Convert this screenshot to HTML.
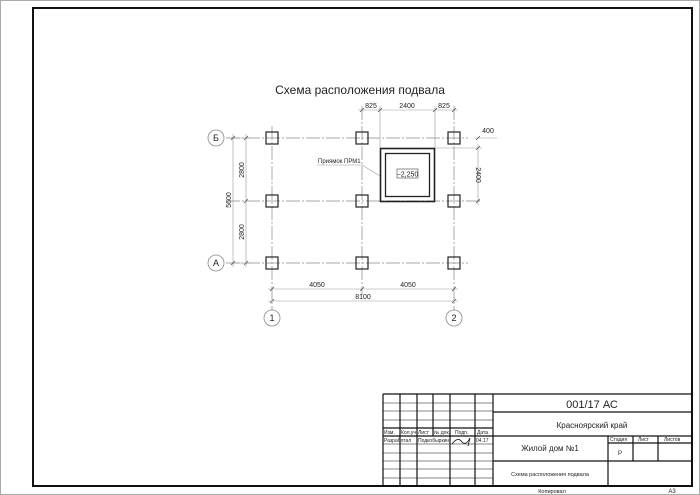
<!DOCTYPE html>
<html><head><meta charset="utf-8"><style>
html,body{margin:0;padding:0;background:#fff}
svg{display:block}
text{font-family:"Liberation Sans","DejaVu Sans",sans-serif;fill:#222}
</style></head><body>
<svg width="700" height="495" viewBox="0 0 700 495" xmlns="http://www.w3.org/2000/svg">
<rect x="0.5" y="0.5" width="699" height="494" fill="#fff" stroke="#aaa"/>
<rect x="33" y="8" width="659" height="478" fill="none" stroke="#111" stroke-width="2"/>

<text x="360" y="94" font-size="12" text-anchor="middle">Схема расположения подвала</text>

<g stroke="#888" stroke-width="0.7" fill="none" stroke-dasharray="14 2 2 2">
<line x1="226" y1="138" x2="468" y2="138"/>
<line x1="226" y1="201" x2="480" y2="201"/>
<line x1="226" y1="263" x2="468" y2="263"/>
<line x1="272" y1="126" x2="272" y2="310"/>
<line x1="362" y1="106" x2="362" y2="295"/>
<line x1="454" y1="106" x2="454" y2="310"/>
</g>
<g stroke="#999" stroke-width="0.6" fill="none">
<line x1="380" y1="106" x2="380" y2="148"/>
<line x1="435" y1="106" x2="435" y2="148"/>
<line x1="358" y1="110" x2="458" y2="110"/>
<line x1="435" y1="148" x2="482" y2="148"/>
<line x1="478" y1="144" x2="478" y2="205"/>
<line x1="474" y1="138" x2="497" y2="138" />
<line x1="230" y1="138" x2="250" y2="138"/>
<line x1="230" y1="263" x2="250" y2="263"/>
<line x1="233" y1="134" x2="233" y2="267"/>
<line x1="246" y1="134" x2="246" y2="267"/>
<line x1="268" y1="289" x2="458" y2="289"/>
<line x1="268" y1="301" x2="458" y2="301"/>
<polyline points="317,165 362,165 380,176"/>
</g>
<g stroke="#555" stroke-width="0.8">
<path d="M360,112l4,-4M378,112l4,-4M433,112l4,-4M452,112l4,-4M476,150l4,-4M476,203l4,-4M476,140l4,-4M231,140l4,-4M231,265l4,-4M244,140l4,-4M244,203l4,-4M244,265l4,-4M270,291l4,-4M360,291l4,-4M452,291l4,-4M270,303l4,-4M452,303l4,-4"/>
</g>
<g font-size="7" fill="#444">
<text x="371" y="108" text-anchor="middle">825</text>
<text x="407" y="108" text-anchor="middle">2400</text>
<text x="444" y="108" text-anchor="middle">825</text>
<text x="488" y="133" text-anchor="middle">400</text>
<text x="317" y="287" text-anchor="middle">4050</text>
<text x="408" y="287" text-anchor="middle">4050</text>
<text x="363" y="299" text-anchor="middle">8100</text>
<text transform="translate(476,175) rotate(90)" text-anchor="middle">2400</text>
<text transform="translate(231,200) rotate(-90)" text-anchor="middle">5600</text>
<text transform="translate(244,170) rotate(-90)" text-anchor="middle">2800</text>
<text transform="translate(244,232) rotate(-90)" text-anchor="middle">2800</text>
<text x="318" y="163" font-size="6">Приямок ПРМ1</text>
</g>
<g stroke="#888" stroke-width="0.8" fill="#fff">
<circle cx="216" cy="138" r="8"/><circle cx="216" cy="263" r="8"/>
<circle cx="272" cy="318" r="8"/><circle cx="454" cy="318" r="8"/>
</g>
<g font-size="9" fill="#666" text-anchor="middle">
<text x="216" y="141">Б</text><text x="216" y="266">А</text>
<text x="272" y="321">1</text><text x="454" y="321">2</text>
</g>
<g stroke="#222" stroke-width="1.2" fill="none">
<rect x="266" y="132" width="12" height="12"/><rect x="356" y="132" width="12" height="12"/><rect x="448" y="132" width="12" height="12"/>
<rect x="266" y="195" width="12" height="12"/><rect x="356" y="195" width="12" height="12"/><rect x="448" y="195" width="12" height="12"/>
<rect x="266" y="257" width="12" height="12"/><rect x="356" y="257" width="12" height="12"/><rect x="448" y="257" width="12" height="12"/>
<rect x="380.5" y="148.5" width="54" height="53" stroke-width="1.6"/>
<rect x="385.5" y="153.5" width="44" height="43" stroke-width="1.3"/>
</g>
<rect x="397" y="169" width="21" height="9" fill="#fff" stroke="#444" stroke-width="0.6"/>
<text x="407.5" y="176.5" font-size="7" text-anchor="middle" fill="#444">−2,250</text>

<!-- title block -->
<g stroke="#111" stroke-width="1.2" fill="none">
<line x1="383" y1="394" x2="692" y2="394"/>
<line x1="383" y1="394" x2="383" y2="486"/>
<line x1="400" y1="394" x2="400" y2="486"/>
<line x1="417" y1="394" x2="417" y2="436"/>
<line x1="433" y1="394" x2="433" y2="436"/>
<line x1="450" y1="394" x2="450" y2="486"/>
<line x1="475" y1="394" x2="475" y2="486"/>
<line x1="493" y1="394" x2="493" y2="486"/>
<line x1="417" y1="436" x2="417" y2="486"/>
<line x1="493" y1="412" x2="692" y2="412"/>
<line x1="383" y1="428" x2="493" y2="428"/>
<line x1="383" y1="436" x2="692" y2="436"/>
<line x1="493" y1="461" x2="692" y2="461"/>
<line x1="608" y1="436" x2="608" y2="486"/>
<line x1="633" y1="436" x2="633" y2="461"/>
<line x1="658" y1="436" x2="658" y2="461"/>
<line x1="608" y1="443" x2="692" y2="443"/>
</g>
<g stroke="#111" stroke-width="0.6">
<line x1="383" y1="403" x2="493" y2="403"/>
<line x1="383" y1="411" x2="493" y2="411"/>
<line x1="383" y1="420" x2="493" y2="420"/>
<line x1="383" y1="444" x2="493" y2="444"/>
<line x1="383" y1="453" x2="493" y2="453"/>
<line x1="383" y1="461" x2="493" y2="461"/>
<line x1="383" y1="469" x2="493" y2="469"/>
<line x1="383" y1="478" x2="493" y2="478"/>
</g>
<g font-size="5" fill="#222">
<text x="384" y="434">Изм.</text><text x="401" y="434">Кол.уч</text><text x="418" y="434">Лист</text><text x="434" y="434">№ док.</text><text x="455" y="434">Подп.</text><text x="477" y="434">Дата</text>
<text x="384" y="442">Разработал</text><text x="418" y="442">Подкобыркин</text><text x="476" y="442">04.17</text>
<text x="610" y="441">Стадия</text><text x="638" y="441">Лист</text><text x="664" y="441">Листов</text>
</g>
<path d="M452,444 q6,-8 10,-2 q4,4 8,-4 l-2,8" stroke="#111" fill="none" stroke-width="0.8"/>
<text x="592" y="408" font-size="11" text-anchor="middle">001/17 АС</text>
<text x="592" y="428" font-size="8" text-anchor="middle">Красноярский край</text>
<text x="550" y="451" font-size="8" text-anchor="middle">Жилой дом №1</text>
<text x="620" y="455" font-size="6" text-anchor="middle">Р</text>
<text x="550" y="476" font-size="5.5" text-anchor="middle">Схема расположения подвала</text>
<text x="552" y="493" font-size="5.5" text-anchor="middle">Копировал</text>
<text x="672" y="493" font-size="6" text-anchor="middle">А3</text>
</svg>
</body></html>
